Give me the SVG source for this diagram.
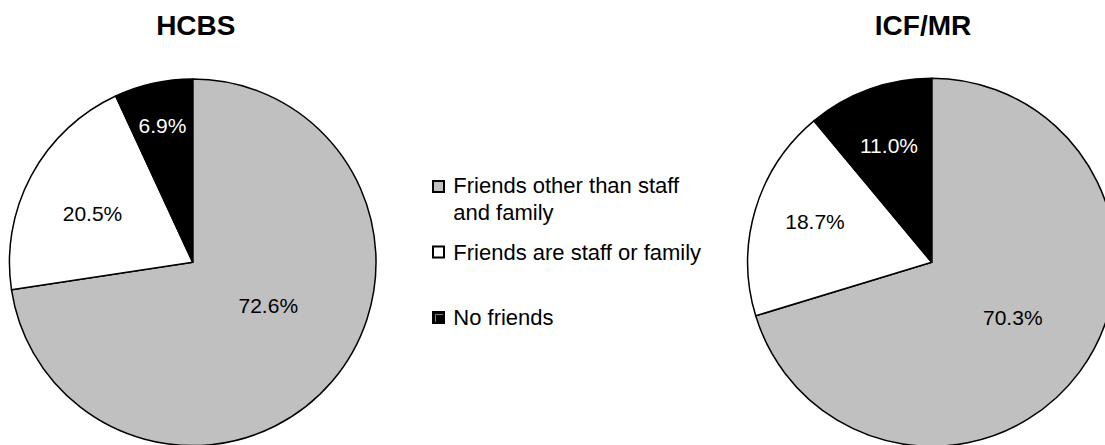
<svg xmlns="http://www.w3.org/2000/svg" width="1105" height="445" viewBox="0 0 1105 445">
<style>
.t{font-family:"Liberation Sans",Arial,sans-serif;font-size:28px;font-weight:bold;fill:#000;text-anchor:middle}
.lbl{font-family:"Liberation Sans",Arial,sans-serif;font-size:21px;text-anchor:middle}
.lg{font-family:"Liberation Sans",Arial,sans-serif;font-size:22px;fill:#000}
.s{stroke:#000;stroke-width:1.5;stroke-linejoin:round}
.g{fill:#c0c0c0}.w{fill:#fff}.b{fill:#000}
.sq{stroke:#000;stroke-width:2}
</style>
<rect width="1105" height="445" fill="#fff"/>
<g id="hcbs">
<text class="t" x="195.8" y="35">HCBS</text>
<path class="s g" d="M192.7,262.3 L192.7,79 A183.3,183.3 0 1 1 11.5,289.8 Z"/>
<path class="s w" d="M192.7,262.3 L11.5,289.8 A183.3,183.3 0 0 1 115.7,96 Z"/>
<path class="s b" d="M192.7,262.3 L115.7,96 A183.3,183.3 0 0 1 192.7,79 Z"/>
<text class="lbl" x="268.3" y="312.7" fill="#000">72.6%</text>
<text class="lbl" x="92.5" y="221" fill="#000">20.5%</text>
<text class="lbl" x="162.5" y="133.3" fill="#fff">6.9%</text>
</g>
<g id="icfmr">
<text class="t" x="923" y="35">ICF/MR</text>
<path class="s g" d="M931.7,262.3 L931.7,78.3 A184,184 0 1 1 755.7,315.8 Z"/>
<path class="s w" d="M931.7,262.3 L755.7,315.8 A184,184 0 0 1 813.9,120.8 Z"/>
<path class="s b" d="M931.7,262.3 L813.9,120.8 A184,184 0 0 1 931.7,78.3 Z"/>
<text class="lbl" x="1012.8" y="325" fill="#000">70.3%</text>
<text class="lbl" x="815" y="229.3" fill="#000">18.7%</text>
<text class="lbl" x="889" y="153.3" fill="#fff">11.0%</text>
</g>
<g id="legend">
<rect class="sq g" x="433" y="181" width="11" height="11"/>
<text class="lg" x="453.3" y="192.7">Friends other than staff</text>
<text class="lg" x="453.3" y="220">and family</text>
<rect class="sq w" x="433" y="246.5" width="11" height="11"/>
<text class="lg" x="453.3" y="260">Friends are staff or family</text>
<rect class="sq b" x="433" y="312" width="11" height="11"/>
<path d="M435.5,322 V314.5 H443" fill="none" stroke="#808080" stroke-width="1"/>
<text class="lg" x="453.3" y="325">No friends</text>
</g>
</svg>
